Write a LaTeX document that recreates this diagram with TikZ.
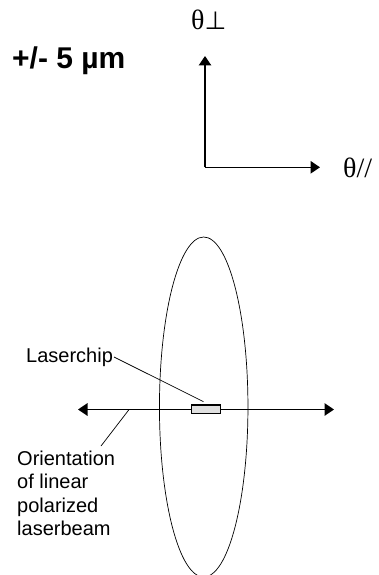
\documentclass[tikz,border=0pt]{standalone}
\usepackage{fontspec}
\setmainfont{Liberation Sans}
\newfontfamily\serifface{Liberation Serif}
\newfontfamily\symface{DejaVu Sans}
\usetikzlibrary{arrows.meta,shapes.geometric}
\tikzset{
  thinline/.style={draw=black,line width=0.7pt},
  axisline/.style={draw=black,line width=1.4pt,-{Triangle[length=9.5pt,width=12.5pt]}},
  beamline/.style={draw=black,line width=1.4pt,{Triangle[length=9.5pt,width=12.5pt]}-{Triangle[length=9.5pt,width=12.5pt]}},
  lab/.style={inner sep=0pt,anchor=base west,font=\fontsize{20}{23}\selectfont},
  greek/.style={inner sep=0pt,anchor=base west,font=\serifface\fontsize{28}{30}\selectfont}
}
\begin{document}
\begin{tikzpicture}[x=1pt,y=-1pt]
\useasboundingbox (0,0) rectangle (378,575);
\node[inner sep=0pt,anchor=base west,font=\bfseries\fontsize{30}{34}\selectfont] (tol) at (12,69) {+/- 5 µm};
\coordinate (origin) at (205,167.3);
\coordinate (upend) at (205,56);
\coordinate (rightend) at (320,167.3);
\draw[axisline] (origin) -- (upend);
\draw[axisline] (origin) -- (rightend);
\node[greek] (tperp) at (191,30) {θ{\symface\fontsize{25}{27}\selectfont⊥}};
\node[greek] (tpar) at (343,177) {θ//};
\node[ellipse,thinline,inner sep=0pt,minimum width=88.5pt,minimum height=340pt] (lens) at (203.7,407) {};
\coordinate (bl) at (78,409.5);
\coordinate (br) at (334,409.5);
\draw[beamline] (bl) -- (br);
\node[draw=black,line width=1.4pt,fill=black!12,inner sep=0pt,minimum width=29pt,minimum height=8.5pt] (chip) at (206.2,409.4) {};
\node[lab] (lchip) at (26,362) {Laserchip};
\coordinate (chipend) at (203.5,401.7);
\draw[thinline] (114,357) -- (chipend);
\node[lab] (o1) at (17,465) {Orientation};
\node[lab] (o2) at (17,488.5) {of linear};
\node[lab] (o3) at (17,512) {polarized};
\node[lab] (o4) at (17,535) {laserbeam};
\coordinate (beamtouch) at (128.7,410);
\coordinate (labtouch) at (101,446);
\draw[thinline] (beamtouch) -- (labtouch);
\end{tikzpicture}
\end{document}
